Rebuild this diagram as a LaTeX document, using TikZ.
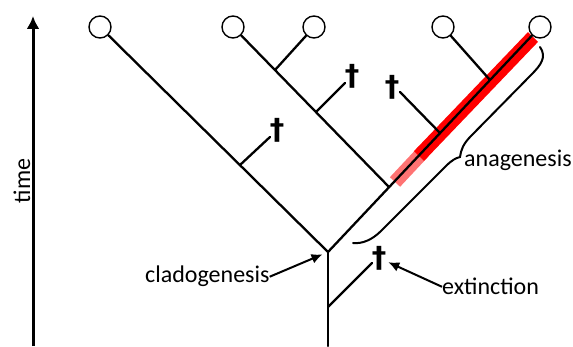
\documentclass[tikz,border=0pt]{standalone}
\usepackage{fontspec}
\setmainfont{Carlito}
\newfontfamily\crossfont{DejaVu Sans}
\usetikzlibrary{arrows.meta}

\begin{document}
\begin{tikzpicture}[x=1pt,y=-1pt]
			\tikzstyle{leaf}=[circle,draw,fill=white,line width=1.4pt,minimum size=22pt,inner sep=0pt]
			\tikzstyle{branch}=[line width=2.3pt,line cap=round]
			\tikzstyle{hilite}=[line width=14pt,red]
			\tikzstyle{dead}=[font=\crossfont\bfseries\fontsize{29}{29}\selectfont,inner sep=0pt]
			\tikzstyle{word}=[font=\fontsize{24}{24}\selectfont,inner sep=0pt]
			\tikzstyle{pointer}=[line width=2pt,-{Latex[length=11pt,width=10pt]}]
			\useasboundingbox (0,0) rectangle (573,347);
			
			% time axis
			\coordinate (t-lo) at (33,346);
			\coordinate (t-hi) at (33,16);
			\draw[line width=3pt,-{Latex[length=13pt,width=13pt]}] (t-lo) -- (t-hi);
			\node[word,rotate=90](time) at (22,181) {time};
			
			% the lineage that changes (red)
			\coordinate (red-lo) at (395,182);
			\coordinate (red-mid) at (424,151);
			\coordinate (red-join) at (419,156);
			\coordinate (red-hi) at (533,37);
			\draw[hilite,red!55] (red-lo) -- (red-mid);
			\draw[hilite] (red-join) -- (red-hi);
			
			% living species
			\foreach \x [count=\i] in {100,233,314,443,540}
			\node[leaf](leaf-\i) at (\x,27) {};
			
			% splits
			\coordinate (root) at (328,252);
			\coordinate (base) at (328,346);
			\coordinate (j-a) at (240,165);
			\coordinate (j-b) at (389,187);
			\coordinate (j-c) at (275,70);
			\coordinate (j-d) at (316,112);
			\coordinate (j-e) at (440,133);
			\coordinate (j-f) at (490,80);
			\coordinate (j-g) at (328,307);
			
			% dead ends
			\coordinate (e-a) at (270,137);
			\coordinate (e-d) at (345,83);
			\coordinate (e-e) at (400,92);
			\coordinate (e-g) at (372,263);
			\node[dead](x-a) at (277,130) {†};
			\node[dead](x-d) at (352,76) {†};
			\node[dead](x-e) at (392,87) {†};
			\node[dead](x-g) at (379,258) {†};
			
			\draw[branch] (base) -- (root);
			\draw[branch] (root) -- (leaf-1);
			\draw[branch] (root) -- (leaf-5);
			\draw[branch] (j-b) -- (leaf-2);
			\draw[branch] (j-c) -- (leaf-3);
			\draw[branch] (j-f) -- (leaf-4);
			\draw[branch] (j-a) -- (e-a);
			\draw[branch] (j-d) -- (e-d);
			\draw[branch] (j-e) -- (e-e);
			\draw[branch] (j-g) -- (e-g);
			
			% labels
			\node[word,anchor=base west](clado) at (145,283) {cladogenesis};
			\node[word,anchor=base west](extinct) at (442,295) {extinction};
			\node[word,anchor=base west](anag) at (464,167) {anagenesis};
			
			\draw[pointer,shorten >=6pt] (clado.east) -- (root);
			\draw[pointer,shorten >=2pt] (extinct.west) -- (x-g);
			
			% brace along the red lineage
			\coordinate (br-top) at (540,47);
			\coordinate (br-tip) at (460,157);
			\coordinate (br-bot) at (353,243);
			\draw[branch,line width=2pt] (br-top) .. controls (547,57) and (541,65) .. (531,75)
			-- (471,136) .. controls (463,144) and (461,150) .. (br-tip)
			.. controls (456,158) and (452,160) .. (446,166)
			-- (381,231) .. controls (372,240) and (362,244) .. (br-bot);
\end{tikzpicture}
\end{document}
